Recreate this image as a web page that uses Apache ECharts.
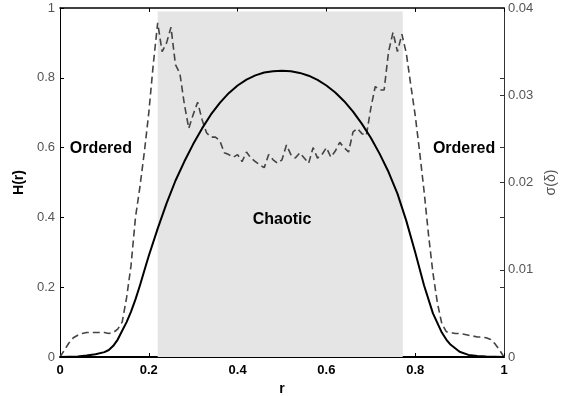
<!DOCTYPE html>
<html>
<head>
<meta charset="utf-8">
<script src="https://cdn.jsdelivr.net/npm/echarts@6/dist/echarts.min.js"></script>
<style>
  html, body { margin: 0; padding: 0; background: #fff; }
  #chart { width: 576px; height: 396px; }
</style>
</head>
<body>
<div id="chart"></div>
<script>
// Entropy H(r) (left axis), sampled along r
const hR = [0, 0.02, 0.04, 0.06, 0.08, 0.10, 0.11, 0.12, 0.13, 0.14, 0.15, 0.16, 0.17, 0.18, 0.19,
  0.20, 0.22, 0.24, 0.26, 0.28, 0.30, 0.32, 0.34, 0.36, 0.38, 0.40, 0.42, 0.44, 0.46, 0.48,
  0.50, 0.52, 0.54, 0.56, 0.58, 0.60, 0.62, 0.64, 0.66, 0.68, 0.70, 0.72, 0.74, 0.76, 0.78,
  0.80, 0.82, 0.84, 0.86, 0.87, 0.88, 0.90, 0.92, 0.94, 0.96, 0.98, 1.00];
const hVal = [0, 0.0005, 0.0015, 0.004, 0.008, 0.014, 0.02, 0.032, 0.05, 0.075, 0.10, 0.13, 0.165, 0.205, 0.248,
  0.29, 0.368, 0.44, 0.505, 0.56, 0.61, 0.655, 0.695, 0.728, 0.756, 0.778, 0.795, 0.807, 0.815, 0.819,
  0.82, 0.819, 0.814, 0.806, 0.794, 0.778, 0.758, 0.733, 0.703, 0.668, 0.628, 0.582, 0.53, 0.468, 0.39,
  0.30, 0.205, 0.125, 0.07, 0.05, 0.035, 0.015, 0.006, 0.003, 0.0012, 0.0004, 0];

// Standard deviation sigma(delta) (right axis), one value per 0.01 step of r
const sigmaR = [];
for (let i = 0; i <= 100; i++) sigmaR.push(+(i / 100).toFixed(2));
const sigmaVal = [
  0, 0.0008, 0.0016, 0.0022, 0.0025, 0.0027, 0.0028, 0.0028, 0.0028, 0.0028,
  0.0028, 0.0027, 0.0028, 0.0032, 0.0040, 0.0068, 0.0105, 0.0160, 0.0195, 0.0235,
  0.0280, 0.0335, 0.0383, 0.0350, 0.0360, 0.0378, 0.0335, 0.0325, 0.0290, 0.0262,
  0.0278, 0.0292, 0.0272, 0.0257, 0.0252, 0.0252, 0.0248, 0.0234, 0.0232, 0.0229,
  0.0232, 0.0224, 0.0235, 0.0228, 0.0224, 0.0220, 0.0217, 0.0232, 0.0226, 0.0222,
  0.0226, 0.0243, 0.0232, 0.0228, 0.0234, 0.0228, 0.0222, 0.0240, 0.0228, 0.0232,
  0.0240, 0.0229, 0.0236, 0.0246, 0.0240, 0.0235, 0.0258, 0.0262, 0.0256, 0.0254,
  0.0285, 0.0310, 0.0306, 0.0306, 0.0350, 0.0372, 0.0350, 0.0370, 0.0348, 0.0312,
  0.0277, 0.0235, 0.0190, 0.0140, 0.0096, 0.0062, 0.0038, 0.0029, 0.0028, 0.0027,
  0.0027, 0.0026, 0.0025, 0.0024, 0.0023, 0.0023, 0.0022, 0.0020, 0.0015, 0.0008, 0];

// Chaotic band in r and its top in H units
const chaoticBand = [0.22, 0.772];
const bandTop = 0.99;

// Region labels: [text, r, H]
const regionLabels = [
  ['Ordered', 0.092, 0.598],
  ['Ordered', 0.91, 0.598],
  ['Chaotic', 0.5, 0.393]
];

const xTicks = { min: 0, max: 1, interval: 0.2 };
const hTicks = { min: 0, max: 1, interval: 0.2 };
const sigmaTicks = { min: 0, max: 0.04, interval: 0.01 };

const FONT = '"Liberation Sans", Arial, Helvetica, sans-serif';

const chart = echarts.init(document.getElementById('chart'), null, { renderer: 'canvas' });

const option = {
  animation: false,
  backgroundColor: '#ffffff',
  grid: { left: 60, right: 72, top: 8, bottom: 39, containLabel: false, outerBoundsMode: 'none' },
  xAxis: [
    {
      type: 'value', position: 'bottom', ...xTicks,
      name: 'r', nameLocation: 'middle', nameGap: 22,
      nameTextStyle: { fontFamily: FONT, fontSize: 14, fontWeight: 'bold', color: '#000' },
      axisLine: { onZero: false, lineStyle: { color: '#000', width: 2 } },
      axisTick: { inside: true, length: 4, lineStyle: { color: '#000', width: 1 } },
      axisLabel: { margin: 7, fontFamily: FONT, fontSize: 13, fontWeight: 'bold', color: '#000' },
      splitLine: { show: false }
    },
    {
      type: 'value', position: 'top', ...xTicks,
      axisLine: { onZero: false, lineStyle: { color: '#000', width: 1.5 } },
      axisTick: { inside: true, length: 4, lineStyle: { color: '#000', width: 1 } },
      axisLabel: { show: false },
      splitLine: { show: false }
    }
  ],
  yAxis: [
    {
      type: 'value', position: 'left', ...hTicks,
      name: 'H(r)', nameLocation: 'middle', nameGap: 28,
      nameTextStyle: { fontFamily: FONT, fontSize: 14, fontWeight: 'bold', color: '#000' },
      axisLine: { onZero: false, lineStyle: { color: '#000', width: 1 } },
      axisTick: { inside: true, length: 4, lineStyle: { color: '#000', width: 1 } },
      axisLabel: { margin: 5, fontFamily: FONT, fontSize: 13, color: '#555' },
      splitLine: { show: false }
    },
    {
      type: 'value', position: 'right', ...sigmaTicks,
      name: 'σ(δ)', nameLocation: 'middle', nameGap: 39, nameRotate: 90,
      nameTextStyle: { fontFamily: FONT, fontSize: 14, color: '#555' },
      axisLine: { onZero: false, lineStyle: { color: '#333', width: 1 } },
      axisTick: { inside: true, length: 4, lineStyle: { color: '#333', width: 1 } },
      axisLabel: { margin: 4, fontFamily: FONT, fontSize: 13, color: '#555' },
      splitLine: { show: false }
    },
    {
      type: 'value', position: 'right', ...hTicks,
      axisLine: { show: false, onZero: false },
      axisTick: { inside: true, length: 4, lineStyle: { color: '#333', width: 1 } },
      axisLabel: { show: false },
      splitLine: { show: false }
    }
  ],
  series: [
    {
      // shaded chaotic band
      type: 'line', xAxisIndex: 0, yAxisIndex: 0, data: [], z: 1,
      markArea: {
        silent: true,
        itemStyle: { color: '#e5e5e5' },
        data: [[{ coord: [chaoticBand[0], 0] }, { coord: [chaoticBand[1], bandTop] }]]
      }
    },
    {
      type: 'line', xAxisIndex: 0, yAxisIndex: 1, z: 3,
      data: sigmaR.map((r, i) => [r, sigmaVal[i]]),
      showSymbol: false, smooth: false,
      lineStyle: { color: '#444', width: 1.6, type: [7, 4] }
    },
    {
      type: 'line', xAxisIndex: 0, yAxisIndex: 0, z: 4,
      data: hR.map((r, i) => [r, hVal[i]]),
      showSymbol: false, smooth: false,
      lineStyle: { color: '#000', width: 2, join: 'round' },
      markPoint: {
        silent: true,
        symbol: 'circle', symbolSize: 1,
        itemStyle: { color: 'rgba(0,0,0,0)' },
        label: {
          show: true, position: 'inside', formatter: p => p.name,
          fontFamily: FONT, fontSize: 16, fontWeight: 'bold', color: '#000'
        },
        data: regionLabels.map(([t, r, h]) => ({ name: t, coord: [r, h] }))
      }
    }
  ]
};

chart.setOption(option);
</script>
</body>
</html>
